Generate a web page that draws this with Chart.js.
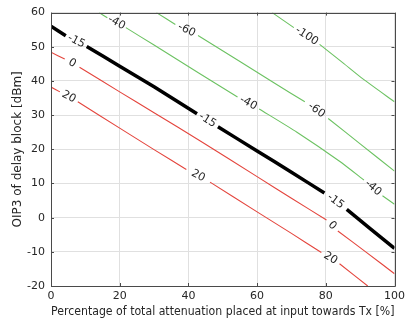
<!DOCTYPE html>
<html>
<head>
<meta charset="utf-8">
<script src="https://cdn.jsdelivr.net/npm/chart.js@4/dist/chart.umd.min.js"></script>
<style>
  html, body { margin: 0; padding: 0; background: #fff; }
  #wrap { width: 409px; height: 320px; }
</style>
</head>
<body>
<div id="wrap"><canvas id="oip3"></canvas></div>
<script>
// contour data; null = gap where the inline label sits
var xTicks = [0, 20, 40, 60, 80, 100];
var yTicks = [-20, -10, 0, 10, 20, 30, 40, 50, 60];

var curveLabels = ['-15', '0', '20', '-40', '-60', '-100'];
var curveColors = ['#000000', '#e4453d', '#e4453d', '#6cc262', '#6cc262', '#6cc262'];
var curveWidths = [3.5, 1.1, 1.1, 1.1, 1.1, 1.1];

var xM15 = [0, 4.3, 7.4, 10.4, 20, 30, 42.5, 45.6, 48.6, 60, 70, 79.6, 83, 86.1, 93, 100];
var yM15 = [56, 53.2, null, 50.1, 44.3, 38.3, 30.4, null, 26.6, 19.5, 13.3, 7.2, null, 2.4, -3.3, -9.0];

var x0 = [0, 4.0, 6, 8.3, 20, 30, 43.7, 60, 70, 80.2, 82, 83.5, 92, 100];
var y0 = [48.4, 46.4, null, 44, 36.8, 30.7, 22.3, 12.0, 5.7, -0.7, null, -3.9, -10.3, -16.4];

var x20 = [0, 2.6, 5.3, 7.8, 20, 30, 39.4, 42.8, 46.3, 60, 70, 78.7, 81, 84, 92.2];
var y20 = [38.2, 36.8, null, 33.9, 26.2, 19.9, 14.1, null, 10.4, 1.7, -4.6, -10.2, null, -13.5, -20];

var xM40 = [14, 16.4, 19, 21.8, 30, 43, 54.3, 57.2, 60.6, 71.6, 84, 91.1, 93.7, 96.5, 100];
var yM40 = [60, 58.5, null, 55.6, 50.5, 42.3, 35.3, null, 31.8, 25.0, 16.5, 11.0, null, 6.4, 3.9];

var xM60 = [30.7, 36.2, 40, 42.8, 55, 65, 73.9, 77.3, 80.7, 90, 100];
var yM60 = [60, 56.5, null, 53.3, 45.7, 39.4, 33.9, null, 29.0, 21.6, 13.6];

var xM100 = [64.4, 70.7, 74.4, 78.2, 85, 90.8, 100];
var yM100 = [60, 55.6, null, 50.7, 45.3, 40.6, 33.9];

var curveX = [xM15, x0, x20, xM40, xM60, xM100];
var curveY = [yM15, y0, y20, yM40, yM60, yM100];

var fontFam = '"DejaVu Sans", sans-serif';
var textCol = '#262626';

var datasets = [];
for (var c = 0; c < curveLabels.length; c++) {
	var pts = [];
	for (var i = 0; i < curveX[c].length; i++) {
		pts.push({x: curveX[c][i], y: curveY[c][i]});
	}
	datasets.push({
		label: curveLabels[c],
		data: pts,
		showLine: true,
		borderColor: curveColors[c],
		borderWidth: curveWidths[c],
		pointRadius: 0,
		tension: 0.2,
		spanGaps: false
	});
}

// rotated text in each gap of a contour
var contourText = {
	id: 'contourText',
	afterDatasetsDraw: function (chart) {
		var ctx = chart.ctx;
		ctx.save();
		ctx.font = '11px ' + fontFam;
		ctx.fillStyle = textCol;
		ctx.textAlign = 'center';
		ctx.textBaseline = 'middle';
		chart.data.datasets.forEach(function (ds, di) {
			var meta = chart.getDatasetMeta(di);
			ds.data.forEach(function (p, i) {
				if (p.y !== null) return;
				var a = meta.data[i - 1], b = meta.data[i + 1];
				var mx = (a.x + b.x) / 2, my = (a.y + b.y) / 2;
				var ang = Math.atan2(b.y - a.y, b.x - a.x);
				ctx.save();
				ctx.translate(mx, my);
				ctx.rotate(ang);
				ctx.fillText(ds.label, 0, 0);
				ctx.restore();
			});
		});
		ctx.restore();
	}
};

// matlab-like box with inward ticks
var boxAxes = {
	id: 'boxAxes',
	afterDraw: function (chart) {
		var ctx = chart.ctx, a = chart.chartArea;
		var xs = chart.scales.x, ys = chart.scales.y;
		ctx.save();
		ctx.strokeStyle = '#4a4a4a';
		ctx.lineWidth = 1;
		ctx.beginPath();
		ctx.rect(Math.round(a.left) + 0.5, Math.round(a.top) + 0.5, Math.round(a.right - a.left), Math.round(a.bottom - a.top));
		xTicks.forEach(function (v) {
			var px = Math.round(xs.getPixelForValue(v)) + 0.5;
			ctx.moveTo(px, a.bottom); ctx.lineTo(px, a.bottom - 3);
			ctx.moveTo(px, a.top); ctx.lineTo(px, a.top + 3);
		});
		yTicks.forEach(function (v) {
			var py = Math.round(ys.getPixelForValue(v)) + 0.5;
			ctx.moveTo(a.left, py); ctx.lineTo(a.left + 3, py);
			ctx.moveTo(a.right, py); ctx.lineTo(a.right - 3, py);
		});
		ctx.stroke();
		ctx.restore();
	}
};

new Chart(document.getElementById('oip3'), {
	type: 'scatter',
	data: {datasets: datasets},
	options: {
		responsive: true,
		maintainAspectRatio: false,
		animation: false,
		layout: {padding: {top: 10, right: 10, left: 0, bottom: 0}},
		plugins: {legend: {display: false}, tooltip: {enabled: false}},
		scales: {
			x: {
				type: 'linear', min: 0, max: 100,
				afterBuildTicks: function (s) { s.ticks = xTicks.map(function (v) { return {value: v}; }); },
				afterFit: function (s) { s.height = 34; },
				grid: {color: '#e0e0e0', drawTicks: false},
				border: {display: false},
				ticks: {color: textCol, font: {family: fontFam, size: 11}, padding: 4, maxRotation: 0},
				title: {display: true, text: 'Percentage of total attenuation placed at input towards Tx [%]',
					color: textCol, font: {family: fontFam, size: 11.8}, padding: {top: 0, bottom: 1}}
			},
			y: {
				type: 'linear', min: -20, max: 60,
				afterBuildTicks: function (s) { s.ticks = yTicks.map(function (v) { return {value: v}; }); },
				afterFit: function (s) { s.width = 51; },
				grid: {color: '#e0e0e0', drawTicks: false},
				border: {display: false},
				ticks: {color: textCol, font: {family: fontFam, size: 11}, padding: 6},
				title: {display: true, text: 'OIP3 of delay block [dBm]',
					color: textCol, font: {family: fontFam, size: 12}, padding: {top: 11, bottom: 0}}
			}
		}
	},
	plugins: [contourText, boxAxes]
});
</script>
</body>
</html>
